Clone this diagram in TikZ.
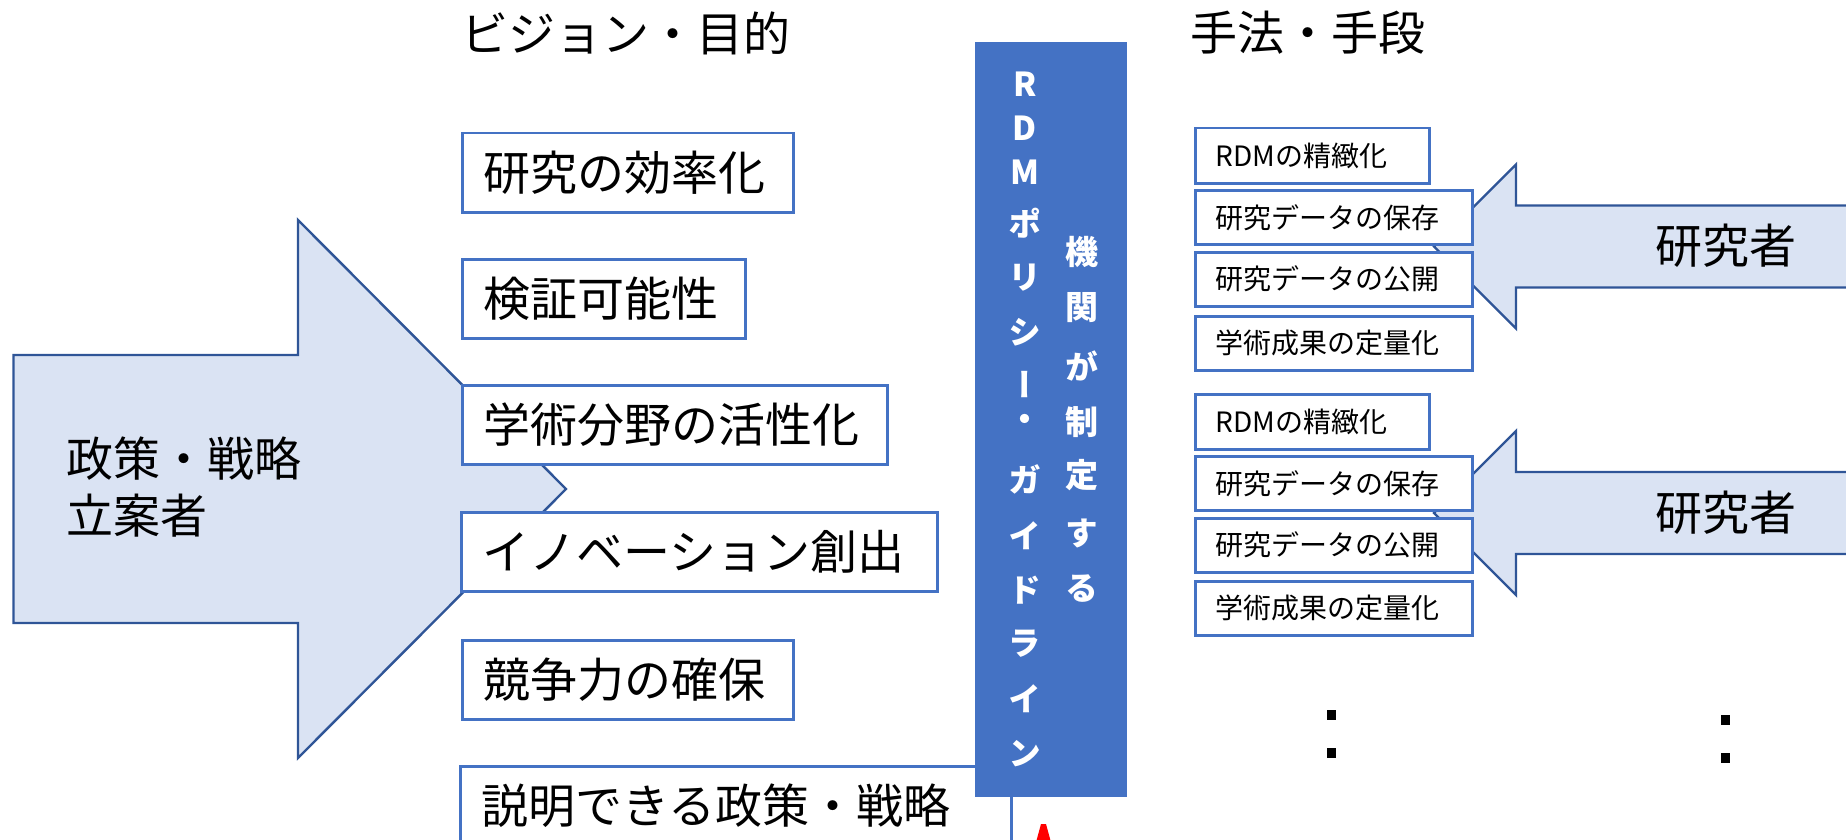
\documentclass[tikz,border=0pt]{standalone}
\usepackage{fontspec}
\setmainfont{Noto Sans CJK JP}
\newfontfamily\barfont[RawFeature=+vert]{Noto Sans CJK JP}
\definecolor{boxblue}{HTML}{4472C4}
\definecolor{arrowfill}{HTML}{DAE3F3}
\definecolor{arrowline}{HTML}{2F5597}
\begin{document}
\begin{tikzpicture}[x=0.5pt,y=-0.5pt,
  vbox/.style={draw=boxblue, line width=1.25pt, fill=white, anchor=north west, align=left,
    inner xsep=10.5pt, inner ysep=0pt, minimum height=39.5pt, font=\fontsize{23.5pt}{28pt}\selectfont},
  mbox/.style={draw=boxblue, line width=1.25pt, fill=white, anchor=north west, align=left,
    inner xsep=10pt, inner ysep=0pt, minimum height=27pt, font=\fontsize{14pt}{17pt}\selectfont},
  bigarrow/.style={draw=arrowline, line width=1.2pt, fill=arrowfill, line join=miter},
  big/.style={font=\fontsize{23.5pt}{28.5pt}\selectfont, inner sep=0pt},
  bartext/.style={font=\barfont\bfseries\fontsize{16.5pt}{19pt}\selectfont, text=white, inner sep=0pt},
  dotsq/.style={fill=black, minimum width=4.5pt, minimum height=5pt, inner sep=0pt}
]
\useasboundingbox (0,0) rectangle (1846,840);
\clip (0,0) rectangle (1846,840);

% left arrow
\draw[bigarrow] (13.5,355) -- (298,355) -- (298,220) -- (566,489) -- (298,758) -- (298,623) -- (13.5,623) -- cycle;
\node[big, anchor=west, align=left] (policy) at (66,487.5) {政策・戦略\\立案者};

% headings
\node[big, anchor=west] (hvision) at (461,33) {ビジョン・目的};
\node[big, anchor=west] (hmethod) at (1190,33) {手法・手段};

% vision boxes
\node[vbox, text width=144.5pt] (v1) at (461,132) {研究の効率化};
\node[vbox, text width=120.5pt] (v2) at (461,258) {検証可能性};
\node[vbox, text width=191.5pt] (v3) at (461,384) {学術分野の活性化};
\node[vbox, text width=217pt] (v4) at (460,511) {イノベーション創出};
\node[vbox, text width=144.5pt] (v5) at (461,639) {競争力の確保};
\node[vbox, text width=254.5pt] (v6) at (459,765) {説明できる政策・戦略};

% central bar
\node[fill=boxblue, minimum width=76pt, minimum height=377.5pt, anchor=north west, inner sep=0pt] (bar) at (975,42) {};
\foreach \c/\yy [count=\i] in {R/84, D/128, M/172, ポ/223, リ/278, シ/332, ー/385, ・/423, ガ/479, イ/536, ド/590, ラ/644, イ/699, ン/754}
  \node[bartext] (pa\i) at (1025,\yy) {\c};
\foreach \c/\yy [count=\i] in {機/252, 関/308, が/366, 制/422, 定/475, す/533, る/589}
  \node[bartext] (pb\i) at (1082,\yy) {\c};

% right arrows
\draw[bigarrow] (1434,246.5) -- (1516,164.5) -- (1516,205.5) -- (1900,205.5) -- (1900,287.5) -- (1516,287.5) -- (1516,328.5) -- cycle;
\node[big] (res1) at (1726,246) {研究者};
\draw[bigarrow] (1434,513) -- (1516,431) -- (1516,472) -- (1900,472) -- (1900,554) -- (1516,554) -- (1516,595) -- cycle;
\node[big] (res2) at (1726,513) {研究者};

% method boxes
\node[mbox, text width=97pt, minimum height=27.5pt] (m1) at (1194,127) {RDMの精緻化};
\node[mbox, text width=118.5pt] (m2) at (1194,189) {研究データの保存};
\node[mbox, text width=118.5pt] (m3) at (1194,251) {研究データの公開};
\node[mbox, text width=118.5pt] (m4) at (1194,315) {学術成果の定量化};
\node[mbox, text width=97pt, minimum height=27.5pt] (n1) at (1194,393) {RDMの精緻化};
\node[mbox, text width=118.5pt] (n2) at (1194,455) {研究データの保存};
\node[mbox, text width=118.5pt] (n3) at (1194,517) {研究データの公開};
\node[mbox, text width=118.5pt] (n4) at (1194,580) {学術成果の定量化};

% vertical ellipses
\node[dotsq] (d1) at (1331,715) {};
\node[dotsq] (d2) at (1331,753) {};
\node[dotsq] (d3) at (1725,720) {};
\node[dotsq] (d4) at (1725,758) {};

% red mark at bottom
\fill[red] (1041,824) -- (1046,824) -- (1052,846) -- (1035,846) -- cycle;
\end{tikzpicture}
\end{document}
